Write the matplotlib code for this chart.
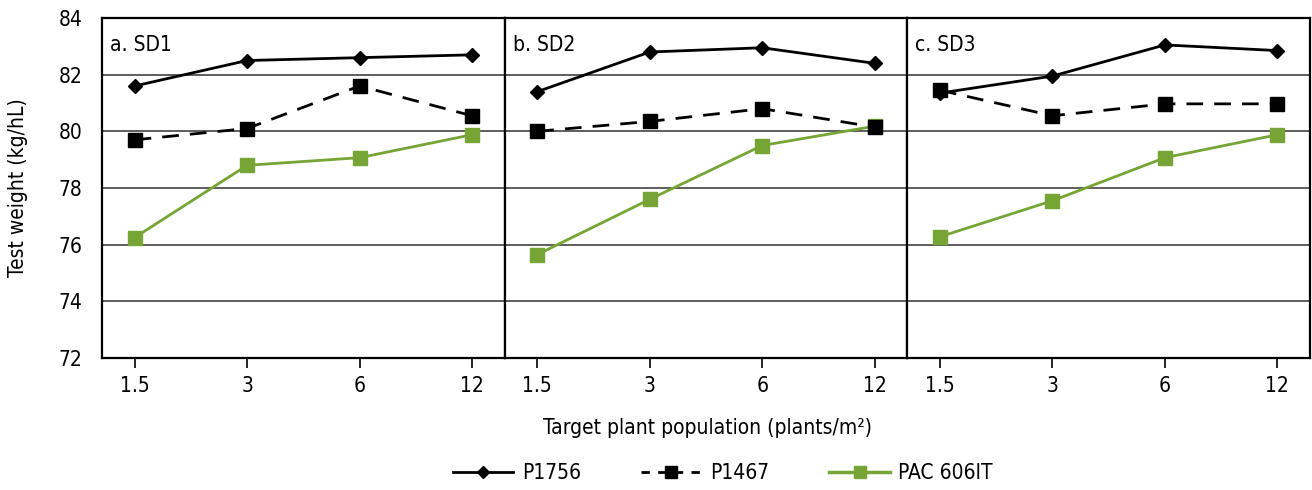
import numpy as np
import matplotlib
matplotlib.use("Agg")
import matplotlib.pyplot as plt
from matplotlib.lines import Line2D

plt.rcParams['font.family'] = ['DejaVu Sans']
plt.rcParams['font.stretch'] = 'condensed'

populations = ["1.5", "3", "6", "12"]
panels = ["a. SD1", "b. SD2", "c. SD3"]

# test weight (kg/hL) per sowing date, ordered by population
p1756 = [
    [81.6, 82.5, 82.6, 82.7],
    [81.4, 82.8, 82.95, 82.4],
    [81.35, 81.95, 83.05, 82.85],
]
p1467 = [
    [79.7, 80.1, 81.6, 80.55],
    [80.0, 80.35, 80.8, 80.15],
    [81.45, 80.55, 80.97, 80.97],
]
pac606 = [
    [76.25, 78.8, 79.07, 79.88],
    [75.65, 77.6, 79.5, 80.18],
    [76.28, 77.55, 79.07, 79.88],
]

green = "#76A536"

fig, axes = plt.subplots(1, 3, figsize=(13.12, 4.9), dpi=100, sharey=True)
fig.subplots_adjust(left=102/1312, right=1310/1312, top=1-18/490, bottom=1-358/490, wspace=0)

x = np.arange(len(populations))
for i, ax in enumerate(axes):
    for yv in [74, 76, 78, 80, 82]:
        ax.axhline(yv, color="#333333", lw=1.1, zorder=1)
    ax.plot(x, pac606[i], color=green, lw=2, marker="s", ms=10, zorder=3)
    ax.plot(x, p1467[i], color="black", lw=2, ls=(0, (6, 4)), marker="s", ms=10, zorder=4)
    ax.plot(x, p1756[i], color="black", lw=2, marker="D", ms=7.5, zorder=5)
    ax.set_xlim(-0.29, 3.29)
    ax.set_ylim(72, 84)
    ax.set_yticks(range(72, 85, 2))
    ax.set_xticks(x)
    ax.set_xticklabels(populations)
    ax.tick_params(axis="x", direction="out", length=7, width=1.2, labelsize=15, pad=6)
    ax.tick_params(axis="y", length=0, labelsize=15, pad=14)
    for s in ax.spines.values():
        s.set_linewidth(1.6)
    ax.text(0.02, 0.95, panels[i], transform=ax.transAxes, fontsize=15, va="top", ha="left")

axes[0].set_ylabel("Test weight (kg/hL)", fontsize=15, labelpad=22)
fig.text(0.539, 1-428/490, "Target plant population (plants/m²)", ha="center", va="center", fontsize=15)

handles = [
    Line2D([], [], color="black", lw=2, marker="D", ms=6),
    Line2D([], [], color="black", lw=2, ls=(0, (3, 3)), marker="s", ms=9),
    Line2D([], [], color=green, lw=2.5, marker="s", ms=9),
]
fig.legend(handles, ["P1756", "P1467", "PAC 606IT"], loc="center", bbox_to_anchor=(0.551, 1-473/490),
           ncol=3, frameon=False, fontsize=15, handlelength=2.9, handletextpad=0.4, columnspacing=2.9)

fig.savefig("out.png", dpi=100)
